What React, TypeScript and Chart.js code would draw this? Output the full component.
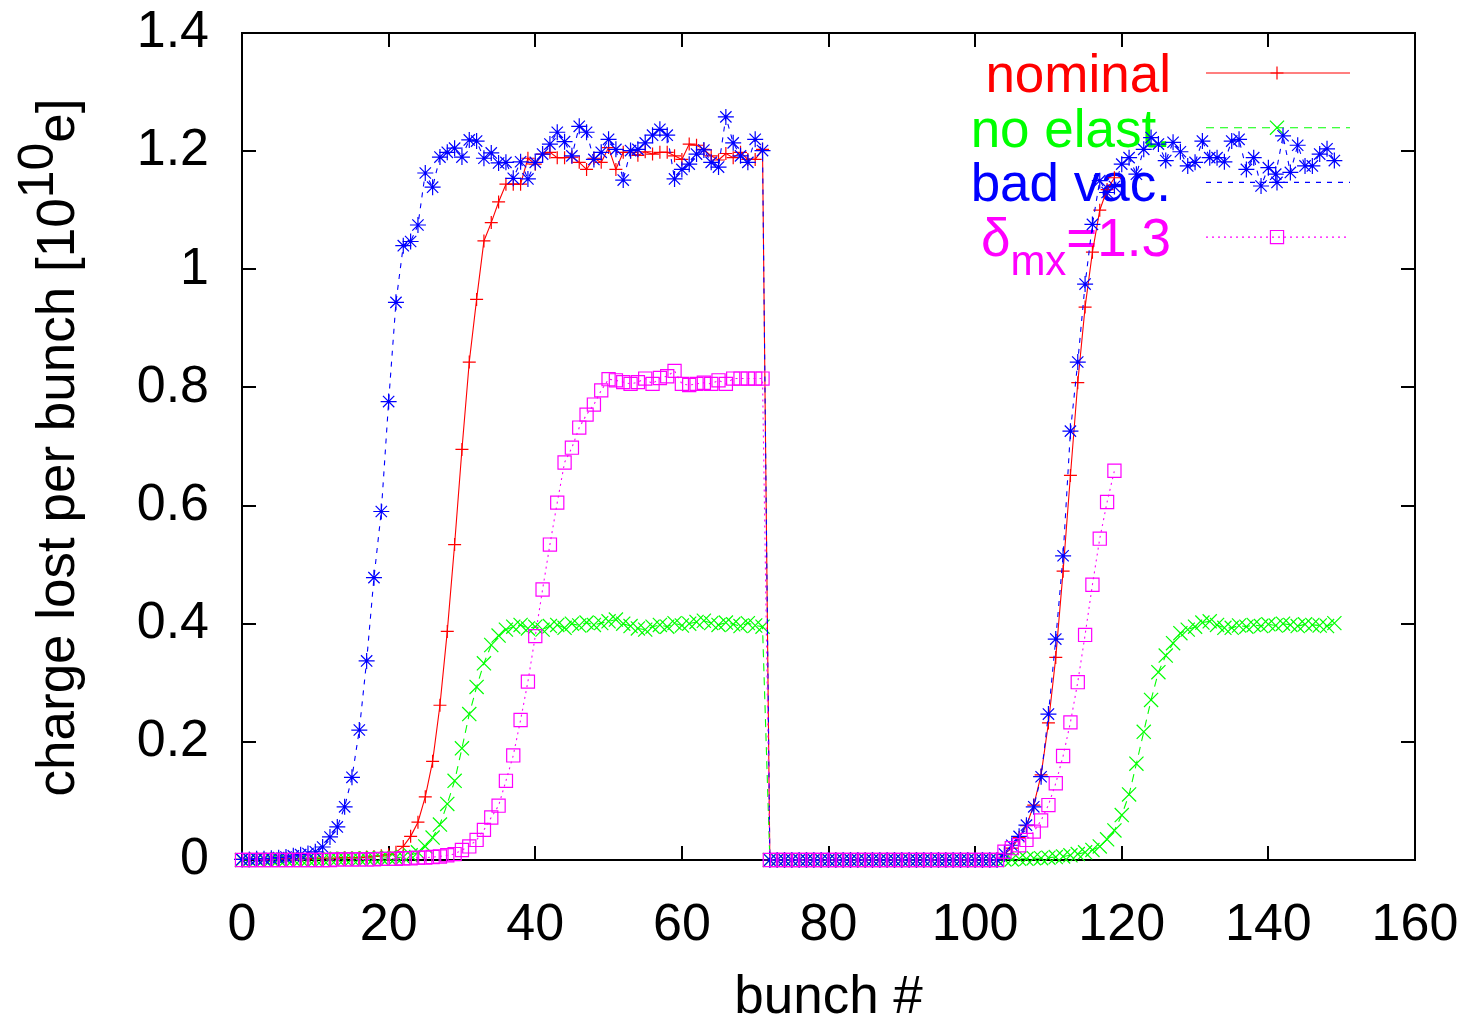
import React, { useEffect, useRef } from "react";
import { Chart, registerables } from "chart.js";
import { drawPoint } from "chart.js/helpers";

Chart.register(...registerables);

// ---------- data (bunch index = array position) ----------
const nominal = [
  0.001, 0.001, 0.001, 0.001, 0.001, 0.001, 0.002, 0.002, 0.002, 0.002,
  0.003, 0.003, 0.003, 0.003, 0.004, 0.004, 0.004, 0.005, 0.006, 0.007,
  0.009, 0.013, 0.023, 0.040, 0.064, 0.107, 0.167, 0.262, 0.387, 0.534,
  0.695, 0.843, 0.949, 1.048, 1.079, 1.114, 1.144, 1.144, 1.144, 1.188,
  1.178, 1.195, 1.198, 1.189, 1.189, 1.190, 1.181, 1.169, 1.188, 1.181,
  1.206, 1.169, 1.198, 1.198, 1.193, 1.199, 1.195, 1.198, 1.198, 1.192,
  1.186, 1.212, 1.210, 1.203, 1.192, 1.185, 1.196, 1.189, 1.198, 1.186,
  1.186, 1.203, 0, 0, 0, 0, 0, 0, 0, 0,
  0, 0, 0, 0, 0, 0, 0, 0, 0, 0,
  0, 0, 0, 0, 0, 0, 0, 0, 0, 0,
  0, 0, 0, 0, 0.010, 0.020, 0.038, 0.058, 0.093, 0.144,
  0.232, 0.343, 0.489, 0.651, 0.808, 0.936, 1.029, 1.100, 1.135, 1.155,
];

const noElast = [
  0.000, 0.000, 0.001, 0.001, 0.001, 0.001, 0.001, 0.001, 0.001, 0.001,
  0.001, 0.001, 0.002, 0.002, 0.002, 0.002, 0.002, 0.003, 0.003, 0.003,
  0.004, 0.004, 0.005, 0.008, 0.013, 0.023, 0.038, 0.060, 0.095, 0.134,
  0.189, 0.247, 0.293, 0.333, 0.364, 0.380, 0.390, 0.395, 0.398, 0.392,
  0.395, 0.390, 0.396, 0.398, 0.393, 0.400, 0.397, 0.402, 0.398, 0.401,
  0.404, 0.407, 0.400, 0.396, 0.392, 0.390, 0.395, 0.398, 0.395, 0.401,
  0.397, 0.400, 0.403, 0.405, 0.401, 0.398, 0.402, 0.399, 0.396, 0.401,
  0.397, 0.395, 0, 0, 0, 0, 0, 0, 0, 0,
  0, 0, 0, 0, 0, 0, 0, 0, 0, 0,
  0, 0, 0, 0, 0, 0, 0, 0, 0, 0,
  0, 0, 0, 0, 0.001, 0.001, 0.002, 0.002, 0.003, 0.003,
  0.004, 0.005, 0.006, 0.008, 0.010, 0.013, 0.017, 0.023, 0.035, 0.050,
  0.076, 0.111, 0.163, 0.217, 0.271, 0.318, 0.346, 0.367, 0.384, 0.390,
  0.395, 0.402, 0.404, 0.398, 0.393, 0.393, 0.397, 0.395, 0.398, 0.396,
  0.399, 0.397, 0.400, 0.398, 0.396, 0.399, 0.398, 0.397, 0.396, 0.401,
];

const badVac = [
  0.001, 0.001, 0.002, 0.002, 0.003, 0.004, 0.005, 0.007, 0.009, 0.011,
  0.014, 0.022, 0.039, 0.056, 0.090, 0.140, 0.220, 0.337, 0.478, 0.590,
  0.776, 0.944, 1.040, 1.047, 1.075, 1.163, 1.139, 1.190, 1.198, 1.205,
  1.190, 1.219, 1.217, 1.188, 1.197, 1.180, 1.181, 1.154, 1.182, 1.153,
  1.181, 1.195, 1.212, 1.232, 1.216, 1.192, 1.242, 1.232, 1.186, 1.198,
  1.220, 1.203, 1.151, 1.201, 1.203, 1.214, 1.227, 1.237, 1.227, 1.153,
  1.169, 1.178, 1.195, 1.202, 1.181, 1.173, 1.258, 1.214, 1.192, 1.181,
  1.220, 1.201, 0, 0, 0, 0, 0, 0, 0, 0,
  0, 0, 0, 0, 0, 0, 0, 0, 0, 0,
  0, 0, 0, 0, 0, 0, 0, 0, 0, 0,
  0, 0, 0, 0, 0.010, 0.025, 0.040, 0.059, 0.090, 0.141,
  0.247, 0.374, 0.515, 0.726, 0.843, 0.975, 1.076, 1.150, 1.130, 1.140,
  1.178, 1.189, 1.161, 1.203, 1.223, 1.212, 1.184, 1.215, 1.199, 1.175,
  1.181, 1.217, 1.189, 1.189, 1.182, 1.217, 1.220, 1.169, 1.189, 1.141,
  1.172, 1.161, 1.226, 1.164, 1.210, 1.175, 1.175, 1.195, 1.204, 1.184,
];

const deltaMx = [
  0.000, 0.000, 0.000, 0.000, 0.000, 0.000, 0.000, 0.000, 0.000, 0.000,
  0.000, 0.000, 0.000, 0.001, 0.001, 0.001, 0.001, 0.001, 0.001, 0.002,
  0.002, 0.002, 0.003, 0.003, 0.004, 0.004, 0.005, 0.006, 0.008, 0.010,
  0.017, 0.023, 0.034, 0.051, 0.072, 0.092, 0.134, 0.177, 0.237, 0.302,
  0.379, 0.458, 0.534, 0.605, 0.673, 0.698, 0.732, 0.754, 0.771, 0.795,
  0.814, 0.812, 0.809, 0.806, 0.809, 0.815, 0.806, 0.816, 0.819, 0.828,
  0.806, 0.804, 0.806, 0.808, 0.806, 0.812, 0.806, 0.815, 0.815, 0.815,
  0.815, 0.815, 0, 0, 0, 0, 0, 0, 0, 0,
  0, 0, 0, 0, 0, 0, 0, 0, 0, 0,
  0, 0, 0, 0, 0, 0, 0, 0, 0, 0,
  0, 0, 0, 0, 0.014, 0.020, 0.025, 0.034, 0.048, 0.067,
  0.093, 0.130, 0.176, 0.233, 0.301, 0.381, 0.466, 0.544, 0.606, 0.659,
];

const seriesLabels = ["nominal", "no elast.", "bad vac.", "δ_{mx}=1.3"];
const xTitle = "bunch #";
const yTitle = "charge lost per bunch [10^{10}e]";
const xMin = 0;
const xMax = 160;
const xStep = 20;
const yMin = 0;
const yMax = 1.4;
const yStep = 0.2;

// ---------- styling ----------
const FONT = '"Liberation Sans", Arial, Helvetica, sans-serif';
const TICK_SIZE = 52;
const TEXT_SIZE = 53;

type Part = { t: string; s: number };

function parseRich(str: string): Part[] {
  const parts: Part[] = [];
  let i = 0;
  let buf = "";
  while (i < str.length) {
    const c = str[i];
    if ((c === "_" || c === "^") && str[i + 1] === "{") {
      if (buf) parts.push({ t: buf, s: 0 });
      buf = "";
      const end = str.indexOf("}", i);
      parts.push({ t: str.slice(i + 2, end), s: c === "_" ? -1 : 1 });
      i = end + 1;
    } else {
      buf += c;
      i++;
    }
  }
  if (buf) parts.push({ t: buf, s: 0 });
  return parts;
}

function drawRich(
  ctx: CanvasRenderingContext2D,
  str: string,
  x: number,
  y: number,
  align: "right" | "center",
  size: number,
  color: string,
  scriptSize: number,
  subDy: number,
  supDy: number
) {
  const parts = parseRich(str);
  const fontFor = (p: Part) => `${p.s === 0 ? size : scriptSize}px ${FONT}`;
  let total = 0;
  const widths = parts.map((p) => {
    ctx.font = fontFor(p);
    const w = ctx.measureText(p.t).width;
    total += w;
    return w;
  });
  let cx = align === "right" ? x - total : x - total / 2;
  ctx.fillStyle = color;
  ctx.textAlign = "left";
  ctx.textBaseline = "alphabetic";
  parts.forEach((p, k) => {
    ctx.font = fontFor(p);
    const dy = p.s === -1 ? subDy : p.s === 1 ? -supDy : 0;
    ctx.fillText(p.t, cx, y + dy);
    cx += widths[k];
  });
}

const framePlugin = {
  id: "gnuFrame",
  beforeDatasetsDraw(chart: any) {
    const ctx: CanvasRenderingContext2D = chart.ctx;
    const { left, right, top, bottom } = chart.chartArea;
    ctx.save();
    ctx.strokeStyle = "#000";
    ctx.lineWidth = 2;
    ctx.setLineDash([]);
    ctx.strokeRect(left, top, right - left, bottom - top);
    const tl = 14;
    const xs = chart.scales.x;
    const ys = chart.scales.y;
    ctx.beginPath();
    xs.ticks.forEach((t: any) => {
      const px = Math.round(xs.getPixelForValue(t.value));
      ctx.moveTo(px, bottom);
      ctx.lineTo(px, bottom - tl);
      ctx.moveTo(px, top);
      ctx.lineTo(px, top + tl);
    });
    ys.ticks.forEach((t: any) => {
      const py = Math.round(ys.getPixelForValue(t.value));
      ctx.moveTo(left, py);
      ctx.lineTo(left + tl, py);
      ctx.moveTo(right, py);
      ctx.lineTo(right - tl, py);
    });
    ctx.stroke();

    // legend (gnuplot style, inside top right)
    const textRight = 1171;
    const lineX0 = 1206;
    const lineX1 = 1350;
    const markX = 1277;
    const rowY0 = 73;
    const rowDy = 54.7;
    chart.data.datasets.forEach((ds: any, i: number) => {
      const y = rowY0 + i * rowDy;
      ctx.strokeStyle = ds.borderColor;
      ctx.lineWidth = ds.borderWidth;
      ctx.setLineDash(ds.borderDash || []);
      ctx.beginPath();
      ctx.moveTo(lineX0, y);
      ctx.lineTo(lineX1, y);
      ctx.stroke();
      ctx.setLineDash([]);
      ctx.fillStyle = "rgba(0,0,0,0)";
      ctx.strokeStyle = ds.borderColor;
      ctx.lineWidth = ds.pointBorderWidth;
      drawPoint(ctx, { pointStyle: ds.pointStyle, radius: ds.pointRadius, rotation: 0, borderWidth: ds.pointBorderWidth } as any, markX, y);
      drawRich(ctx, ds.label, textRight, y + 19, "right", TEXT_SIZE, ds.borderColor, 42, 19, 20);
    });

    // axis titles
    drawRich(ctx, xTitle, (left + right) / 2, 1013, "center", TEXT_SIZE, "#000", 50, 19, 21);
    ctx.translate(73.5, (top + bottom) / 2 + 1);
    ctx.rotate(-Math.PI / 2);
    drawRich(ctx, yTitle, 0, 0, "center", TEXT_SIZE, "#000", 50, 19, 21);
    ctx.restore();
  },
};

function toPoints(values: number[]) {
  return values.map((v, i) => ({ x: i, y: v }));
}

function noScalePadding(s: any) {
  s.paddingTop = 0;
  s.paddingBottom = 0;
  s.paddingLeft = 0;
  s.paddingRight = 0;
}

export default function App() {
  const ref = useRef<HTMLCanvasElement | null>(null);

  useEffect(() => {
    if (!ref.current) return;
    const common = {
      borderWidth: 1.1,
      pointBorderWidth: 1.2,
      pointBackgroundColor: "rgba(0,0,0,0)",
      pointHoverRadius: 0,
      fill: false,
      tension: 0,
      clip: false as any,
    };
    const chart = new Chart(ref.current, {
      type: "line",
      data: {
        datasets: [
          {
            ...common,
            label: seriesLabels[0],
            data: toPoints(nominal),
            borderColor: "#ff0000",
            pointBorderColor: "#ff0000",
            pointStyle: "cross",
            pointRadius: 6.5,
            order: 3,
          },
          {
            ...common,
            label: seriesLabels[1],
            data: toPoints(noElast),
            borderColor: "#00ff00",
            pointBorderColor: "#00ff00",
            borderDash: [8, 6],
            pointStyle: "crossRot",
            pointRadius: 10,
            order: 2,
          },
          {
            ...common,
            label: seriesLabels[2],
            data: toPoints(badVac),
            borderColor: "#0000ff",
            pointBorderColor: "#0000ff",
            borderDash: [5, 6],
            pointStyle: "star",
            pointRadius: 8,
            order: 1,
          },
          {
            ...common,
            label: seriesLabels[3],
            data: toPoints(deltaMx),
            borderColor: "#ff00ff",
            pointBorderColor: "#ff00ff",
            borderDash: [2, 4],
            pointStyle: "rect",
            pointRadius: 9.3,
            order: 0,
          },
        ] as any,
      },
      options: {
        responsive: false,
        animation: false,
        events: [],
        layout: { padding: { left: 0, right: 60, top: 33, bottom: 0 } },
        plugins: {
          legend: { display: false },
          tooltip: { enabled: false },
          title: { display: false },
        },
        scales: {
          x: {
            type: "linear",
            min: xMin,
            max: xMax,
            grid: { display: false },
            border: { display: false },
            ticks: {
              stepSize: xStep,
              autoSkip: false,
              maxRotation: 0,
              padding: 26,
              color: "#000",
              font: { family: FONT, size: TICK_SIZE },
            },
            afterFit: (s: any) => {
              s.height = 165;
              noScalePadding(s);
            },
          },
          y: {
            type: "linear",
            min: yMin,
            max: yMax,
            grid: { display: false },
            border: { display: false },
            ticks: {
              stepSize: yStep,
              padding: 25,
              color: "#000",
              font: { family: FONT, size: TICK_SIZE },
              callback: (v: any) => String(Math.round(Number(v) * 10) / 10),
            },
            afterFit: (s: any) => {
              s.width = 242;
              noScalePadding(s);
            },
          },
        },
      },
      plugins: [framePlugin],
    });
    return () => chart.destroy();
  }, []);

  return (
    <div style={{ position: "absolute", left: 0, top: 0, width: 1475, height: 1025, background: "#fff" }}>
      <canvas ref={ref} width={1475} height={1025} style={{ display: "block" }} />
    </div>
  );
}
